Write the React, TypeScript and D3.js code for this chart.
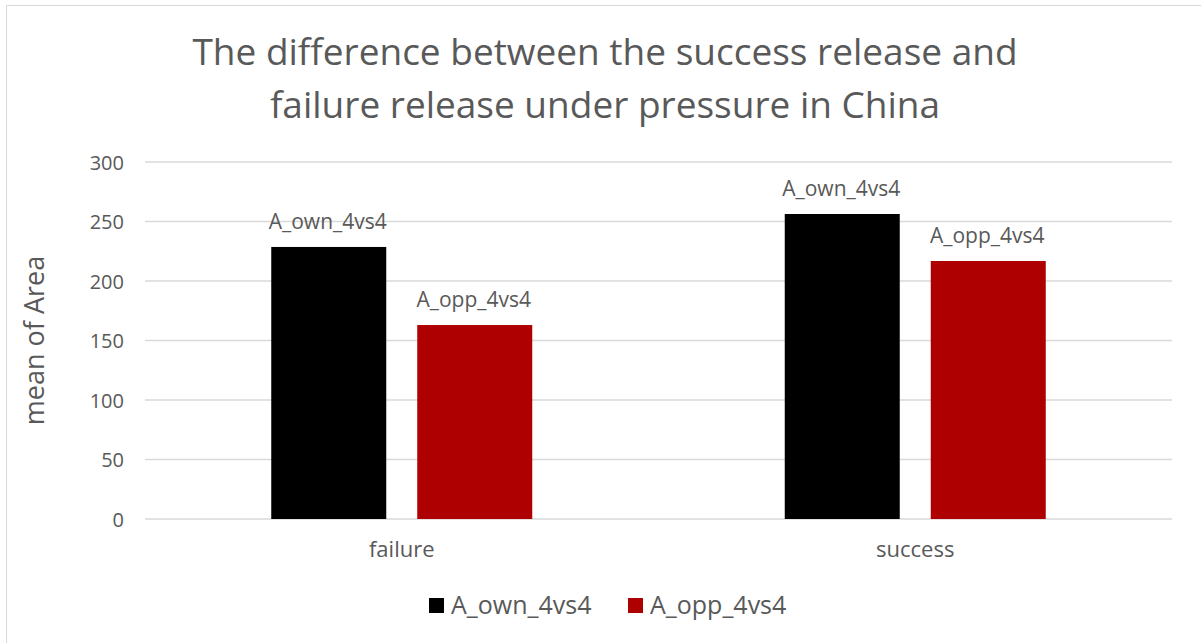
import React from "react";
import * as d3 from "d3";

const categories = ["failure", "success"];
const seriesNames = ["A_own_4vs4", "A_opp_4vs4"];
const seriesColors = ["#000000", "#AE0000"];
const ownValues = [228.6, 256.3];
const oppValues = [163.0, 216.8];
const yTicks = [0, 50, 100, 150, 200, 250, 300];
const titleLines = [
  "The difference between the success release and",
  "failure release under pressure in China",
];

const W = 1201;
const H = 643;
const FONT = "'Open Sans', sans-serif";
const TXT = "#595959";

export default function App() {
  const plotLeft = 145;
  const plotRight = 1172;
  const plotTop = 162;
  const plotBottom = 519;

  const x0 = d3.scaleBand<string>().domain(categories).range([plotLeft, plotRight]).paddingInner(0).paddingOuter(0);
  const x1 = d3.scaleBand<string>().domain(seriesNames).range([0, 261]).paddingInner(31 / 146).paddingOuter(0);
  const y = d3.scaleLinear().domain([0, 300]).range([plotBottom, plotTop]);
  const values = [ownValues, oppValues];

  return (
    <svg width={W} height={H} style={{ display: "block", position: "absolute", left: 0, top: 0 }}>
      <rect x={0} y={0} width={W} height={H} fill="#fff" />
      <rect x={6.5} y={5.5} width={W + 10} height={H + 10} fill="none" stroke="#d9d9d9" strokeWidth={1} />
      {titleLines.map((t, i) => (
        <text key={i} x={605} y={65 + i * 53} textAnchor="middle" fontFamily={FONT} fontSize={37} fill={TXT}>
          {t}
        </text>
      ))}
      {yTicks.map((t) => (
        <g key={t}>
          <line x1={plotLeft} x2={plotRight} y1={y(t)} y2={y(t)} stroke="#d9d9d9" strokeWidth={1.5} />
          <text x={124} y={y(t) + 7.5} textAnchor="end" fontFamily={FONT} fontSize={20} fill={TXT}>
            {t}
          </text>
        </g>
      ))}
      <text
        transform={`translate(44, ${(plotTop + plotBottom) / 2}) rotate(-90)`}
        textAnchor="middle"
        fontFamily={FONT}
        fontSize={27}
        fill={TXT}
      >
        mean of Area
      </text>
      {categories.map((c, ci) => {
        const cx = (x0(c) as number) + x0.bandwidth() / 2;
        const gx = cx - 261 / 2;
        return (
          <g key={c}>
            {seriesNames.map((s, si) => {
              const v = values[si][ci];
              const bx = gx + (x1(s) as number);
              return (
                <g key={s}>
                  <rect x={bx} y={y(v)} width={x1.bandwidth()} height={y(0) - y(v)} fill={seriesColors[si]} />
                  <text x={bx + x1.bandwidth() / 2 - 1} y={y(v) - 18} textAnchor="middle" fontFamily={FONT} fontSize={21} fill={TXT}>
                    {s}
                  </text>
                </g>
              );
            })}
            <text x={cx} y={557} textAnchor="middle" fontFamily={FONT} fontSize={22} fill={TXT}>
              {c}
            </text>
          </g>
        );
      })}
      {seriesNames.map((s, i) => {
        const lx = [429, 628][i];
        return (
          <g key={s}>
            <rect x={lx} y={598} width={15} height={15} fill={seriesColors[i]} />
            <text x={lx + 22} y={614} fontFamily={FONT} fontSize={25} fill={TXT}>
              {s}
            </text>
          </g>
        );
      })}
    </svg>
  );
}
